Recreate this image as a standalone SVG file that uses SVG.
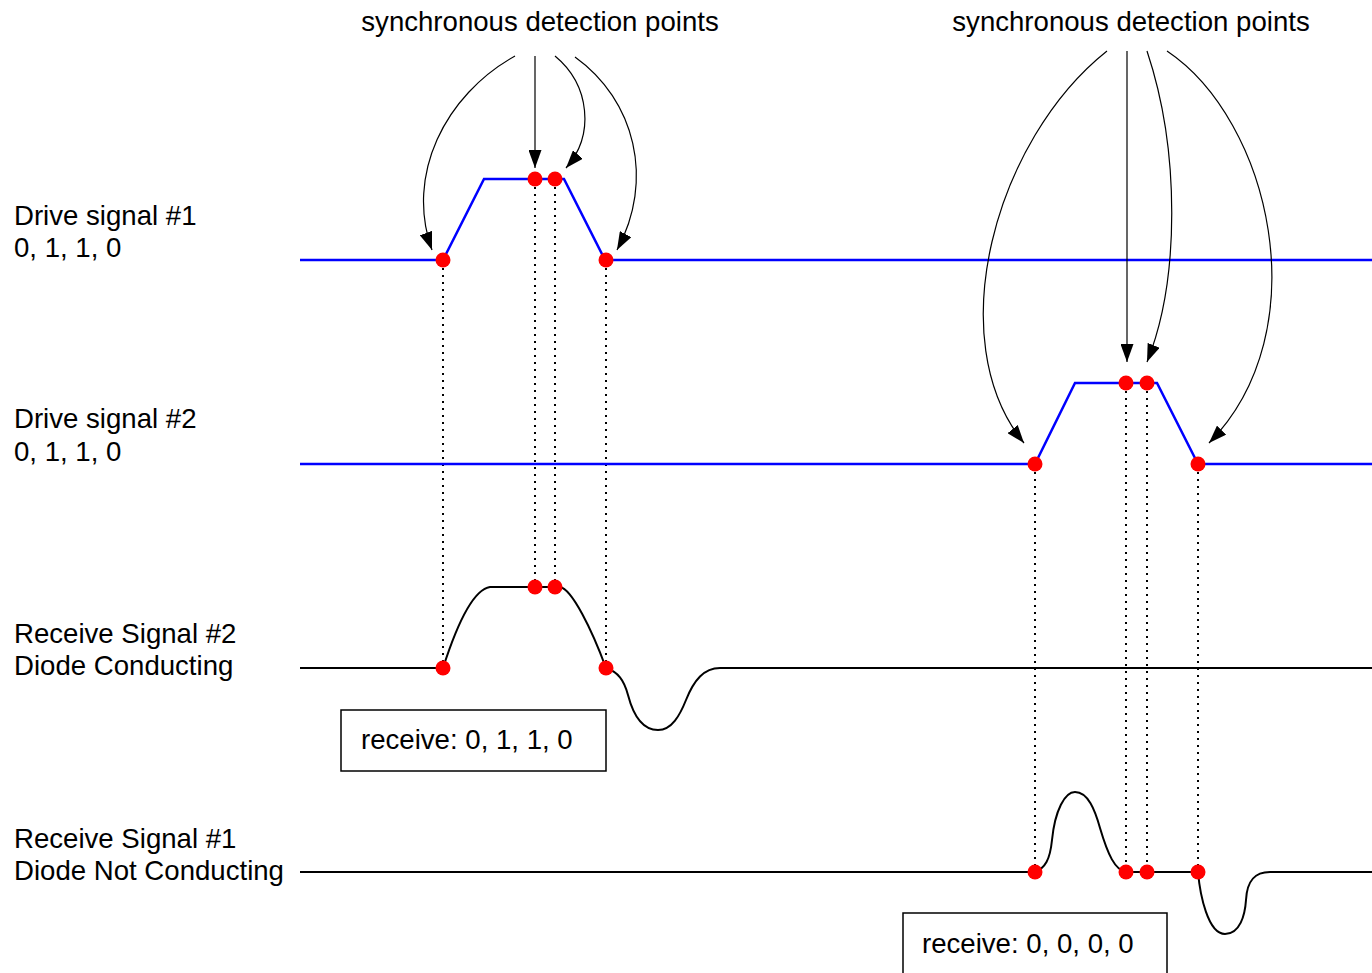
<svg xmlns="http://www.w3.org/2000/svg" width="1372" height="973" viewBox="0 0 1372 973">
<style>
text{font-family:"Liberation Sans",Arial,sans-serif;font-size:27.6px;fill:#000}
.drive{fill:none;stroke:#0000ff;stroke-width:2.5;stroke-linejoin:miter}
.wave{fill:none;stroke:#000;stroke-width:2}
.dot{fill:#ff0000}
.vdot{stroke:#000;stroke-width:2;stroke-dasharray:2 5;fill:none}
.arr{fill:none;stroke:#000;stroke-width:1.2;marker-end:url(#ah)}
.box{fill:#fff;stroke:#000;stroke-width:1.5}
</style>
<defs>
<marker id="ah" viewBox="0 0 18 13" refX="18" refY="6.5" markerWidth="18" markerHeight="13" markerUnits="userSpaceOnUse" orient="auto">
<path d="M0,0 L18,6.5 L0,13 z" fill="#000"/>
</marker>
</defs>
<rect width="1372" height="973" fill="#fff"/>
<g id="labels">
<text x="14" y="225">Drive signal #1</text>
<text x="14" y="257">0, 1, 1, 0</text>
<text x="14" y="428">Drive signal #2</text>
<text x="14" y="461">0, 1, 1, 0</text>
<text x="14" y="643">Receive Signal #2</text>
<text x="14" y="675">Diode Conducting</text>
<text x="14" y="848">Receive Signal #1</text>
<text x="14" y="880">Diode Not Conducting</text>
</g>
<g id="title1"><text x="540" y="31" text-anchor="middle">synchronous detection points</text></g>
<g id="title2"><text x="1131" y="31" text-anchor="middle">synchronous detection points</text></g>
<g id="guides">
<line class="vdot" x1="443" y1="268" x2="443" y2="662"/>
<line class="vdot" x1="535" y1="187" x2="535" y2="581"/>
<line class="vdot" x1="555" y1="187" x2="555" y2="581"/>
<line class="vdot" x1="606" y1="268" x2="606" y2="662"/>
<line class="vdot" x1="1035" y1="472" x2="1035" y2="866"/>
<line class="vdot" x1="1126" y1="391" x2="1126" y2="866"/>
<line class="vdot" x1="1147" y1="391" x2="1147" y2="866"/>
<line class="vdot" x1="1198" y1="472" x2="1198" y2="866"/>
</g>
<g id="drive1">
<path class="drive" d="M300,260 L443,260 L484,179 L564,179 L605,260 L1372,260"/>
</g>
<g id="drive2">
<path class="drive" d="M300,464 L1035,464 L1075,383 L1157,383 L1198,464 L1372,464"/>
</g>
<g id="receive2">
<path class="wave" d="M300,668 L443,668 C452,640 470,590 490,587 L560,587 C572,589 592,630 606,668 C618,672 624,680 628,695 C634,718 644,730 658,730 C672,730 680,715 686,700 C694,680 704,668 720,668 L1372,668"/>
</g>
<g id="receive1">
<path class="wave" d="M300,872 L1035,872 C1045,868 1050,860 1052,840 C1055,810 1065,792 1075,792 C1088,792 1095,810 1100,828 C1108,855 1115,870 1126,872 L1198,872 C1200,895 1208,934 1225,934 C1240,934 1245,915 1246,900 C1247,880 1255,872 1270,872 L1372,872"/>
</g>
<g id="points">
<circle class="dot" cx="443" cy="260" r="7.5"/>
<circle class="dot" cx="535" cy="179" r="7.5"/>
<circle class="dot" cx="555" cy="179" r="7.5"/>
<circle class="dot" cx="606" cy="260" r="7.5"/>
<circle class="dot" cx="1035" cy="464" r="7.5"/>
<circle class="dot" cx="1126" cy="383" r="7.5"/>
<circle class="dot" cx="1147" cy="383" r="7.5"/>
<circle class="dot" cx="1198" cy="464" r="7.5"/>
<circle class="dot" cx="443" cy="668" r="7.5"/>
<circle class="dot" cx="535" cy="587" r="7.5"/>
<circle class="dot" cx="555" cy="587" r="7.5"/>
<circle class="dot" cx="606" cy="668" r="7.5"/>
<circle class="dot" cx="1035" cy="872" r="7.5"/>
<circle class="dot" cx="1126" cy="872" r="7.5"/>
<circle class="dot" cx="1147" cy="872" r="7.5"/>
<circle class="dot" cx="1198" cy="872" r="7.5"/>
</g>
<g id="connectors">
<path class="arr" d="M515,56 C445,95 405,175 432,250"/>
<path class="arr" d="M535,56 L535,168"/>
<path class="arr" d="M555,56 C590,85 595,135 566,168"/>
<path class="arr" d="M575,57 C635,100 655,180 617,250"/>
<path class="arr" d="M1107,51 C995,140 940,340 1024,443"/>
<path class="arr" d="M1127,51 L1127,362"/>
<path class="arr" d="M1147,51 C1180,150 1180,280 1147,362"/>
<path class="arr" d="M1167,51 C1270,120 1320,330 1209,443"/>
</g>
<g id="box1">
<rect class="box" x="341" y="710" width="265" height="61"/>
<text x="361" y="749">receive: 0, 1, 1, 0</text>
</g>
<g id="box2">
<rect class="box" x="903" y="913" width="264" height="70"/>
<text x="922" y="953">receive: 0, 0, 0, 0</text>
</g>
</svg>
